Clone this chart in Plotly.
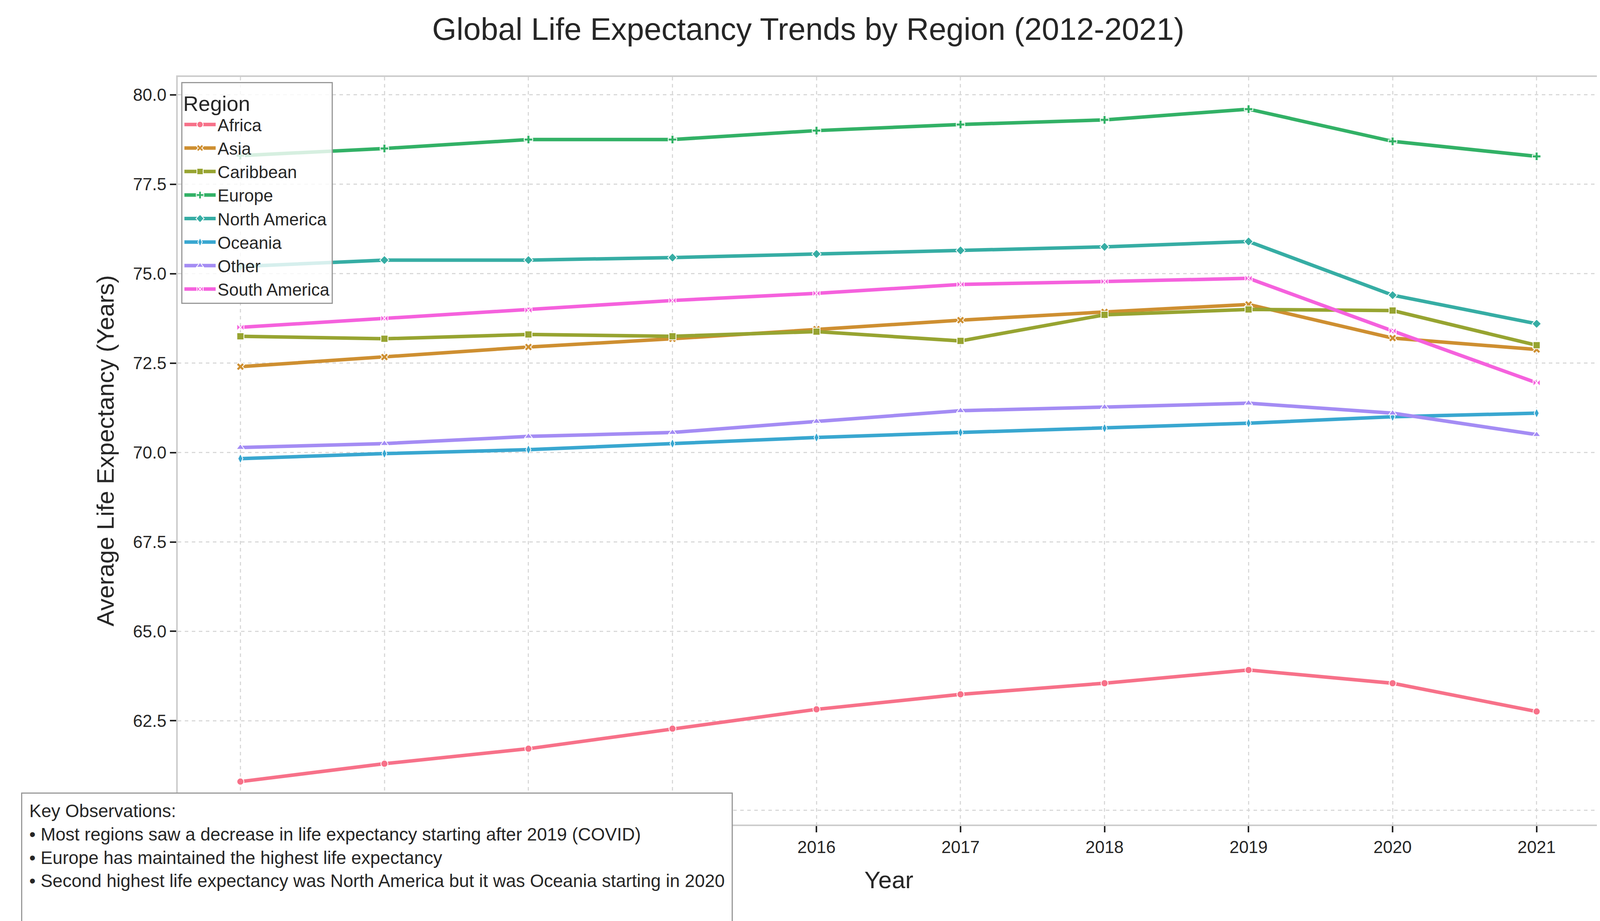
import plotly.graph_objects as go

years = [2012, 2013, 2014, 2015, 2016, 2017, 2018, 2019, 2020, 2021]

regions = ["Africa", "Asia", "Caribbean", "Europe", "North America", "Oceania", "Other", "South America"]

africa = [60.8, 61.3, 61.72, 62.28, 62.82, 63.24, 63.55, 63.92, 63.55, 62.76]
asia = [72.4, 72.67, 72.95, 73.18, 73.45, 73.7, 73.93, 74.14, 73.2, 72.88]
caribbean = [73.25, 73.18, 73.3, 73.25, 73.38, 73.12, 73.85, 74.0, 73.97, 73.0]
europe = [78.3, 78.5, 78.75, 78.75, 79.0, 79.17, 79.3, 79.6, 78.7, 78.28]
north_america = [75.2, 75.38, 75.38, 75.45, 75.55, 75.65, 75.75, 75.9, 74.4, 73.6]
oceania = [69.83, 69.97, 70.08, 70.25, 70.42, 70.56, 70.68, 70.82, 71.0, 71.1]
other = [70.14, 70.25, 70.45, 70.56, 70.87, 71.17, 71.27, 71.38, 71.1, 70.5]
south_america = [73.5, 73.75, 73.98, 74.25, 74.45, 74.7, 74.78, 74.87, 73.4, 71.95]

series = [africa, asia, caribbean, europe, north_america, oceania, other, south_america]
colors = ["#f77189", "#ce8f31", "#97a431", "#32b166", "#36ada4", "#39a7d0", "#a48cf4", "#f561dd"]
symbols = ["circle", "x", "square", "cross", "diamond", "diamond-tall", "triangle-up", "bowtie"]

notes = ("Key Observations:<br>"
         "• Most regions saw a decrease in life expectancy starting after 2019 (COVID)<br>"
         "• Europe has maintained the highest life expectancy<br>"
         "• Second highest life expectancy was North America but it was Oceania starting in 2020<br> ")

fig = go.Figure()
for name, vals, c, s in zip(regions, series, colors, symbols):
    fig.add_trace(go.Scatter(
        x=years, y=vals, name=name, mode="lines+markers",
        line=dict(color=c, width=9),
        marker=dict(symbol=s, size=18, color=c, line=dict(color="white", width=2)),
    ))

fig.update_layout(
    width=4122, height=2358,
    paper_bgcolor="white", plot_bgcolor="white",
    font=dict(family="Liberation Sans, Arial", color="#262626", size=44),
    margin=dict(l=447, r=34, t=189, b=255),
    title=dict(text="Global Life Expectancy Trends by Region (2012-2021)",
               x=0.5, xanchor="center", y=0.972, yanchor="middle",
               font=dict(size=80)),
    legend=dict(
        title=dict(text="Region", font=dict(size=54)),
        x=0.0025, y=0.993, xanchor="left", yanchor="top",
        bgcolor="rgba(255,255,255,0.8)", bordercolor="#999999", borderwidth=3,
        font=dict(size=44), itemwidth=80,
    ),
    annotations=[dict(
        text=notes, xref="paper", yref="paper", x=-0.11, y=0.043,
        xanchor="left", yanchor="top", align="left", showarrow=False,
        font=dict(size=46, color="#262626"),
        bgcolor="white", bordercolor="#999999", borderwidth=3, borderpad=18,
    )],
)

fig.update_xaxes(
    title=dict(text="Year", font=dict(size=62), standoff=40),
    range=[2011.565, 2021.44], tickmode="array", tickvals=years,
    showgrid=True, gridcolor="#d9d9d9", griddash="dash", gridwidth=3,
    showline=True, linecolor="#cccccc", linewidth=4, mirror=True,
    ticks="outside", ticklen=16, tickwidth=4, tickcolor="#262626", zeroline=False,
)
fig.update_yaxes(
    title=dict(text="Average Life Expectancy (Years)", font=dict(size=62), standoff=30),
    range=[59.6, 80.5], tickmode="array",
    tickvals=[60, 62.5, 65, 67.5, 70, 72.5, 75, 77.5, 80],
    ticktext=["60.0", "62.5", "65.0", "67.5", "70.0", "72.5", "75.0", "77.5", "80.0"],
    showgrid=True, gridcolor="#d9d9d9", griddash="dash", gridwidth=3,
    showline=True, linecolor="#cccccc", linewidth=4, mirror=True,
    ticks="outside", ticklen=16, tickwidth=4, tickcolor="#262626", zeroline=False,
)

fig.write_html("out.html")
